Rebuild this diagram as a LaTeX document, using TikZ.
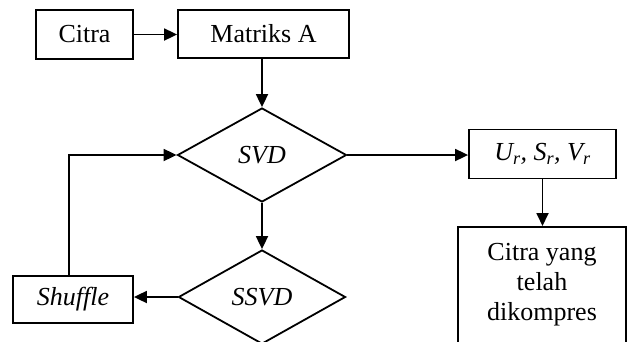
\documentclass[tikz,border=0pt]{standalone}
\usepackage{fontspec}
\setmainfont{Liberation Serif}
\usetikzlibrary{shapes.geometric,arrows.meta}
\tikzset{
  box/.style={draw, line width=1.8pt, rectangle, inner sep=0pt, font=\fontsize{26}{30}\selectfont},
  dec/.style={draw, line width=1.8pt, diamond, inner sep=0pt, font=\fontsize{26}{30}\selectfont\itshape},
  conn/.style={line width=1.8pt, -{Triangle[length=13pt,width=12pt]}},
  txt/.style={inner sep=0pt, align=center, font=\fontsize{26}{30}\selectfont}
}
\begin{document}
\begin{tikzpicture}[x=1pt,y=-1pt]
\useasboundingbox (0,0) rectangle (627,341);
\clip (0,0) rectangle (627,341);
\node[box, minimum width=97pt, minimum height=49pt] (citra) at (84.5,34.5) {Citra};
\node[box, minimum width=171pt, minimum height=48pt] (matriks) at (263.5,34) {Matriks A};
\node[dec, minimum width=169pt, minimum height=94pt] (svd) at (262,155) {SVD};
\node[dec, minimum width=167pt, minimum height=94pt] (ssvd) at (262,297) {SSVD};
\node[box, minimum width=120pt, minimum height=47pt, font=\fontsize{26}{30}\selectfont\itshape] (shuffle) at (73,299.5) {Shuffle};
\node[box, minimum width=147pt, minimum height=49pt, font=\fontsize{26}{30}\selectfont\itshape] (usv) at (542.5,154) {U\textsubscript{r}, S\textsubscript{r}, V\textsubscript{r}};
\node[box, anchor=north, minimum width=168pt, minimum height=140pt] (hasil) at (542,226) {};
\node[txt, anchor=north] (hasiltxt) at (542,243) {Citra yang\\telah\\dikompres};
\draw[conn] (citra.east) -- (citra.east -| matriks.west);
\draw[conn] (svd.north |- matriks.south) -- (svd.north);
\draw[conn] (svd.south) -- (ssvd.north);
\draw[conn] (svd.east) -- (svd.east -| usv.west);
\draw[conn] (usv.south) -- (usv.south |- hasil.north);
\draw[conn] (ssvd.west) -- (ssvd.west -| shuffle.east);
\draw[conn] ([xshift=-4pt]shuffle.north) |- (svd.west);
\end{tikzpicture}
\end{document}
